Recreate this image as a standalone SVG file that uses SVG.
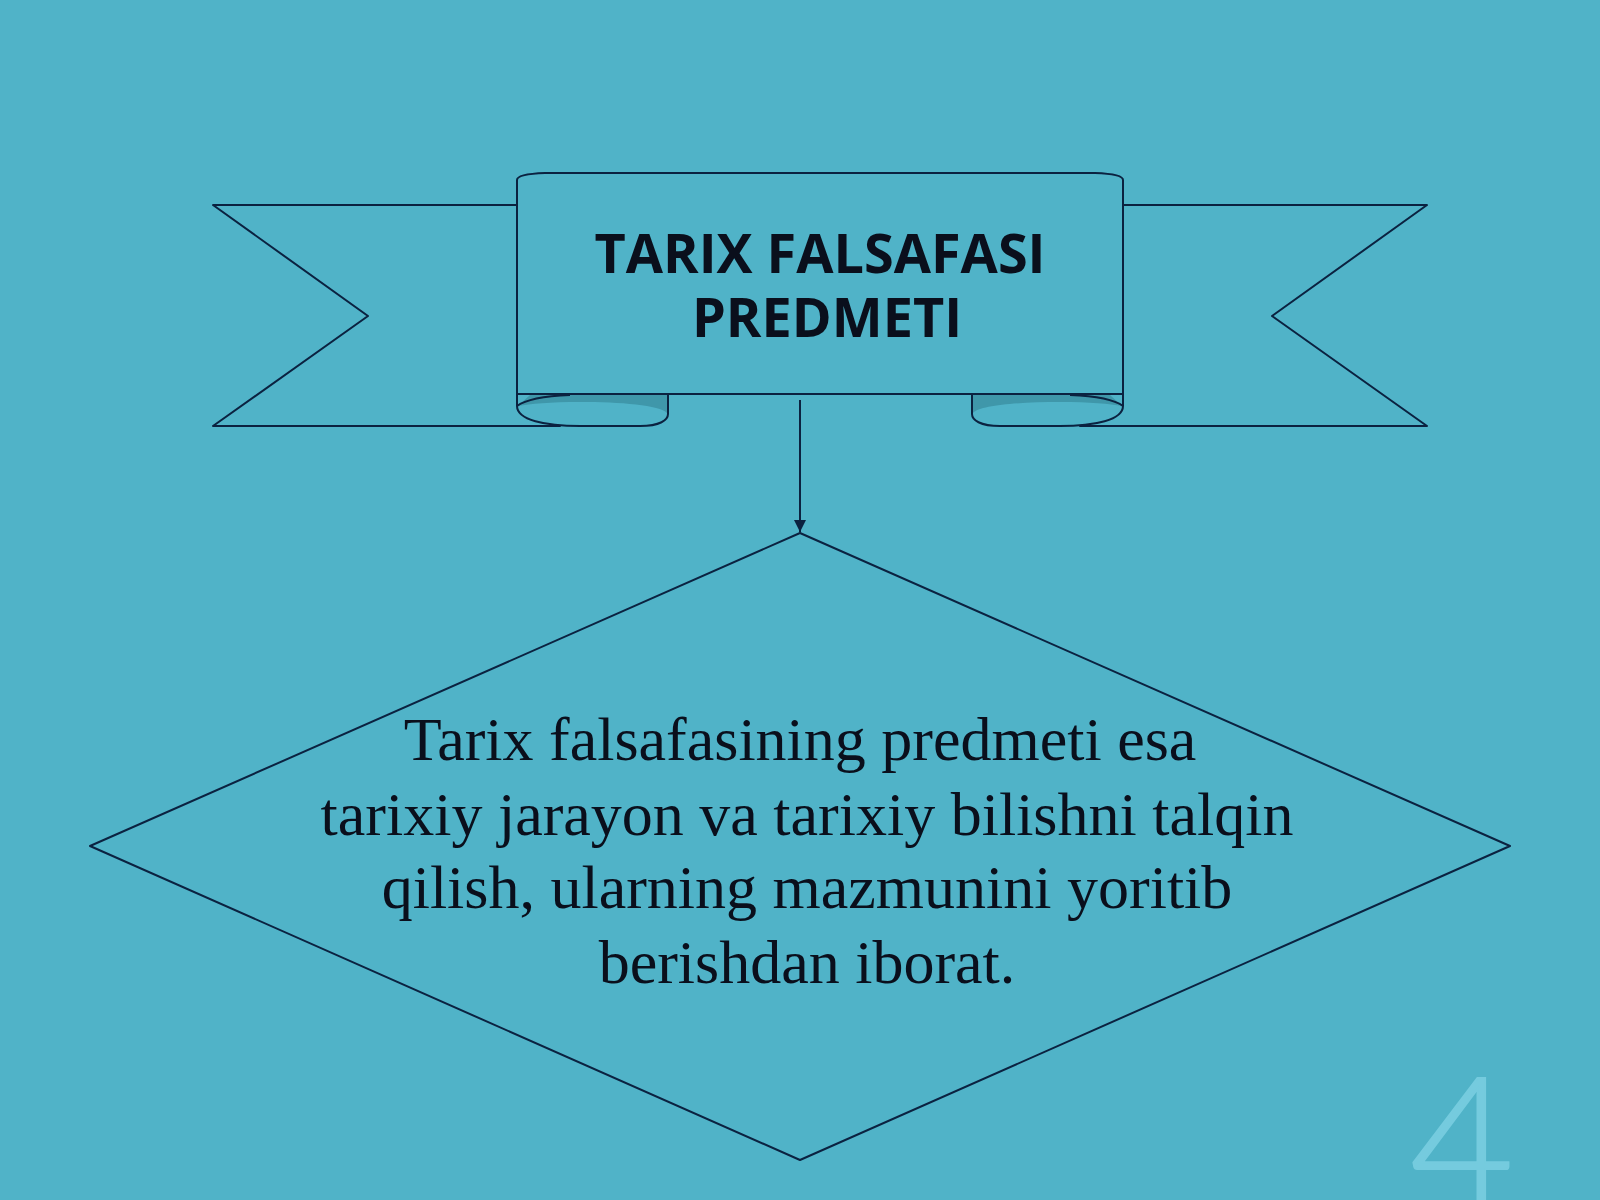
<svg xmlns="http://www.w3.org/2000/svg" width="1600" height="1200" viewBox="0 0 1600 1200">
<defs>
<style>
.ln{fill:#50b3c8;stroke:#0b2240;stroke-width:2;stroke-linejoin:round}
.dk{fill:#3f97aa;stroke:none}
.ttl{font-family:"Open Sans","Noto Sans",sans-serif;font-weight:bold;font-size:54px;fill:#0a0f1c;text-anchor:middle}
.body{font-family:"Liberation Serif","Times New Roman",serif;font-size:62px;fill:#0a0f1c;text-anchor:middle}
</style>
<marker id="arr" viewBox="0 0 12 12" refX="12" refY="6" markerWidth="12" markerHeight="12" markerUnits="userSpaceOnUse" orient="auto">
<path d="M0,0 L12,6 L0,12 Z" fill="#0b2240"/>
</marker>
</defs>
<rect width="1600" height="1200" fill="#50b3c8"/>
<text x="1462" y="1206" font-family="Lato,'Noto Sans',sans-serif" font-weight="300" font-size="180" fill="#7cd0e2" stroke="#7cd0e2" stroke-width="2" text-anchor="middle" opacity="0.85">4</text>
<g id="ribbon">
<path class="ln" d="M213,205 L560,205 L560,426 L213,426 L368,316 Z"/>
<path class="ln" d="M1427,205 L1080,205 L1080,426 L1427,426 L1272,316 Z"/>
<path class="ln" d="M517,394 L517,406 C517,420 545,426 580,426 L640,426 C660,426 668,420 668,414 L668,394 Z"/>
<path class="dk" d="M530,395 L667,395 L667,413 C660,405 620,402 580,402 C550,402 530,404 518,406 Z"/>
<path fill="none" stroke="#0b2240" stroke-width="2" d="M517,406 C525,400 545,396 570,395"/>
<path class="ln" d="M1123,394 L1123,406 C1123,420 1095,426 1060,426 L1000,426 C980,426 972,420 972,414 L972,394 Z"/>
<path class="dk" d="M1110,395 L973,395 L973,413 C980,405 1020,402 1060,402 C1090,402 1110,404 1122,406 Z"/>
<path fill="none" stroke="#0b2240" stroke-width="2" d="M1123,406 C1115,400 1095,396 1070,395"/>
<path class="ln" d="M517,394 L517,180 Q517,174 545,173 L1095,173 Q1123,174 1123,180 L1123,394 Z"/>
<text class="ttl"><tspan x="820" y="273">TARIX FALSAFASI</tspan><tspan x="827" y="337">PREDMETI</tspan></text>
</g>
<g id="connectors">
<line x1="800" y1="400" x2="800" y2="532" stroke="#0b2240" stroke-width="2" marker-end="url(#arr)"/>
</g>
<g id="diamond">
<path class="ln" style="fill:none" d="M800,533 L1510,846 L800,1160 L90,846 Z"/>
<text class="body" x="800" y="760">Tarix falsafasining predmeti esa</text>
<text class="body" x="807" y="835">tarixiy jarayon va tarixiy bilishni talqin</text>
<text class="body" x="807" y="908">qilish, ularning mazmunini yoritib</text>
<text class="body" x="807" y="983">berishdan iborat.</text>
</g>
</svg>
